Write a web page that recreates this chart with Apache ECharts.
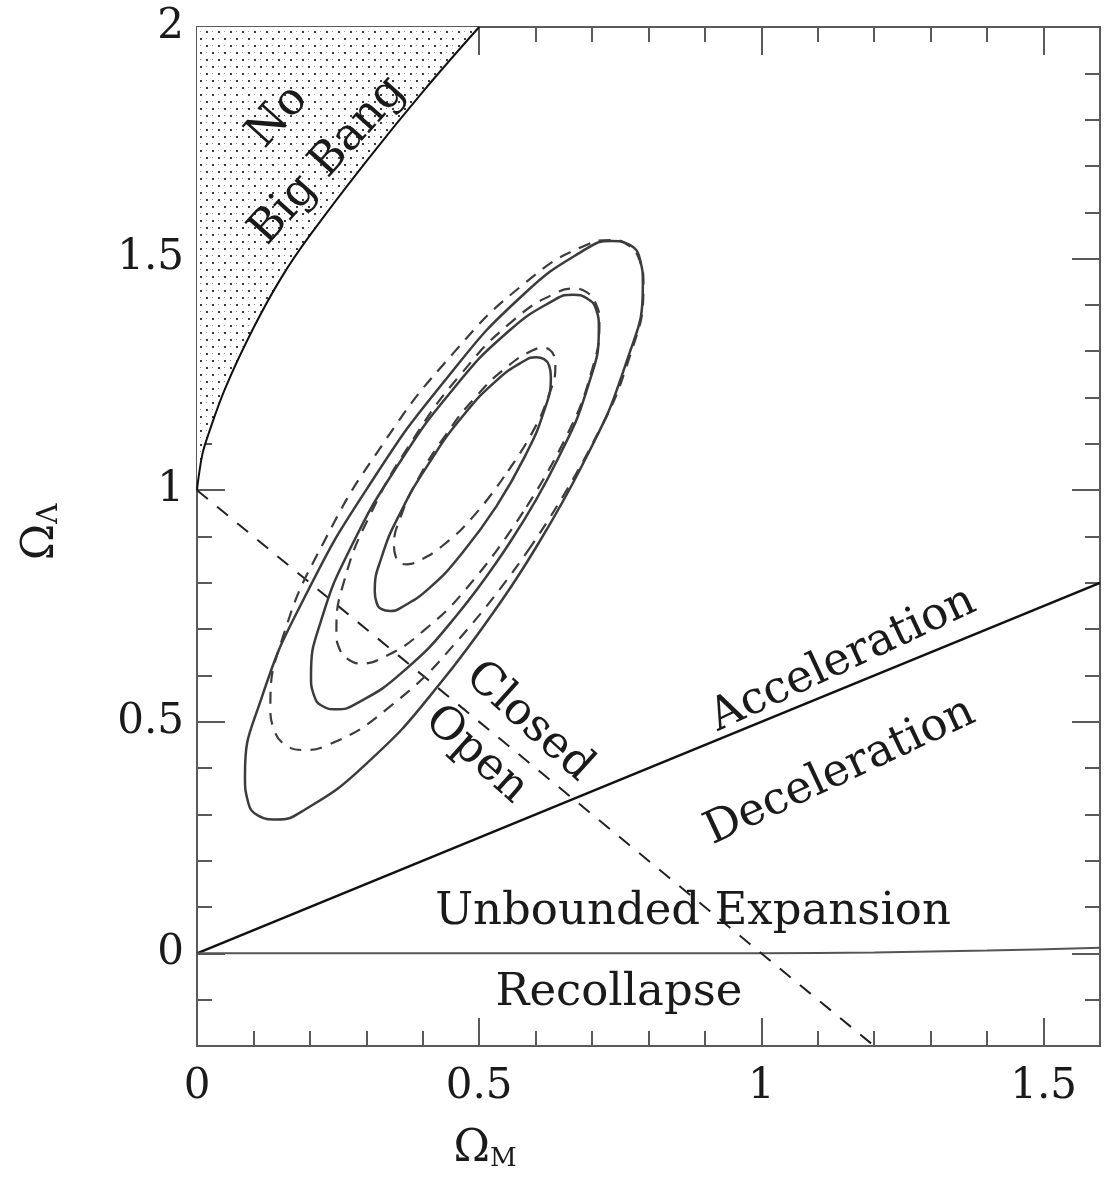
<!DOCTYPE html>
<html>
<head>
<meta charset="utf-8">
<script src="https://cdn.jsdelivr.net/npm/echarts@6/dist/echarts.min.js"></script>
<style>
html,body{margin:0;padding:0;background:#fff;}
#chart{width:1105px;height:1188px;}
</style>
</head>
<body>
<div id="chart"></div>
<script>
// ---------- data ----------
const xMajorTicks = [0, 0.5, 1, 1.5];
const yMajorTicks = [0, 0.5, 1, 1.5, 2];

// "No Big Bang" boundary
const noBigBangM = [0, 0.003, 0.01, 0.02, 0.05, 0.1, 0.15, 0.2, 0.3, 0.4, 0.5];
const noBigBangL = [1, 1.03, 1.08, 1.12, 1.22, 1.35, 1.46, 1.55, 1.71, 1.86, 2.0];

// acceleration / deceleration boundary
const accelM = [0, 1.6];
const accelL = [0, 0.8];

// closed / open (flat) boundary
const flatM = [0, 1.2];
const flatL = [1, -0.2];

// expansion / recollapse boundary
const recollapseM = [0, 1, 1.2, 1.4, 1.6];
const recollapseL = [0, 0, 0.002, 0.006, 0.012];

// solid contours
const solidOuterM = [0.567,0.431,0.297,0.184,0.141,0.109,0.090,0.085,0.114,0.192,0.308,0.444,0.578,0.691,0.734,0.766,0.785,0.790,0.761,0.683,0.567];
const solidOuterL = [0.811,0.583,0.406,0.305,0.289,0.297,0.329,0.383,0.550,0.772,1.016,1.244,1.422,1.522,1.538,1.530,1.498,1.444,1.277,1.055,0.811];
const solidMidM = [0.558,0.461,0.363,0.279,0.247,0.222,0.207,0.202,0.220,0.274,0.356,0.453,0.551,0.635,0.667,0.691,0.707,0.712,0.694,0.640,0.558];
const solidMidL = [0.894,0.731,0.606,0.537,0.527,0.534,0.558,0.598,0.719,0.880,1.054,1.217,1.342,1.412,1.422,1.414,1.391,1.350,1.229,1.069,0.894];
const solidInnerM = [0.531,0.471,0.412,0.361,0.342,0.327,0.318,0.315,0.327,0.361,0.412,0.471,0.531,0.581,0.601,0.615,0.624,0.627,0.615,0.581,0.531];
const solidInnerL = [0.966,0.866,0.789,0.746,0.739,0.743,0.758,0.781,0.855,0.953,1.060,1.160,1.237,1.280,1.287,1.283,1.269,1.245,1.171,1.073,0.966];

// dashed contours
const dashOuterM = [0.592,0.466,0.339,0.230,0.188,0.157,0.137,0.130,0.153,0.223,0.329,0.455,0.582,0.691,0.733,0.764,0.784,0.791,0.768,0.698,0.592];
const dashOuterL = [0.879,0.681,0.530,0.449,0.439,0.450,0.481,0.533,0.686,0.884,1.099,1.297,1.448,1.530,1.540,1.529,1.497,1.445,1.293,1.094,0.879];
const dashMidM = [0.578,0.490,0.400,0.322,0.292,0.269,0.253,0.247,0.261,0.308,0.382,0.470,0.560,0.638,0.668,0.691,0.706,0.713,0.699,0.652,0.578];
const dashMidL = [0.953,0.806,0.695,0.634,0.626,0.634,0.656,0.694,0.805,0.950,1.108,1.254,1.366,1.427,1.435,1.427,1.404,1.367,1.256,1.110,0.953];
const dashInnerM = [0.544,0.490,0.435,0.389,0.372,0.359,0.352,0.349,0.361,0.393,0.440,0.495,0.550,0.595,0.613,0.625,0.633,0.635,0.623,0.592,0.544];
const dashInnerL = [1.029,0.944,0.880,0.845,0.840,0.844,0.857,0.879,0.943,1.027,1.118,1.203,1.267,1.302,1.307,1.303,1.289,1.268,1.204,1.120,1.029];

// region labels
const regionLabels = ['No', 'Big Bang', 'Acceleration', 'Deceleration', 'Closed', 'Open', 'Unbounded Expansion', 'Recollapse'];

// ---------- helpers ----------
const pairs = (xs, ys) => xs.map((x, i) => [x, ys[i]]);
const FONT = '"DejaVu Serif", "Liberation Serif", serif';
const AXIS_COLOR = '#5a5a5a';
const TEXT_COLOR = '#1a1a1a';

function dotPattern() {
  const c = document.createElement('canvas');
  c.width = 12; c.height = 14;
  const g = c.getContext('2d');
  g.fillStyle = '#ffffff';
  g.fillRect(0, 0, 12, 14);
  g.fillStyle = '#3a3a3a';
  g.fillRect(2, 3, 2, 2);
  g.fillRect(8, 10, 2, 2);
  g.fillStyle = '#9a9a9a';
  g.fillRect(8, 3, 1, 1);
  g.fillRect(2, 10, 1, 1);
  return c;
}

const chart = echarts.init(document.getElementById('chart'), null, {renderer: 'canvas'});

const axisLineStyle = {color: AXIS_COLOR, width: 2};
function xAxisDef(position, major) {
  return {
    type: 'value', min: 0, max: 1.6, position: position,
    interval: major ? 0.5 : 0.1,
    axisLine: {show: true, onZero: false, lineStyle: axisLineStyle},
    axisTick: major
      ? {show: true, inside: true, length: 28, customValues: xMajorTicks, lineStyle: {color: AXIS_COLOR, width: 2}}
      : {show: true, inside: true, length: 15, lineStyle: {color: AXIS_COLOR, width: 2}},
    axisLabel: (major && position === 'bottom')
      ? {show: true, customValues: xMajorTicks, fontSize: 42, fontFamily: FONT, color: TEXT_COLOR, margin: 20}
      : {show: false},
    splitLine: {show: false}
  };
}
function yAxisDef(position, major) {
  return {
    type: 'value', min: -0.2, max: 2, position: position,
    interval: 0.1,
    axisLine: {show: true, onZero: false, lineStyle: axisLineStyle},
    axisTick: major
      ? {show: true, inside: true, length: 28, customValues: yMajorTicks, lineStyle: {color: AXIS_COLOR, width: 2}}
      : {show: true, inside: true, length: 15, lineStyle: {color: AXIS_COLOR, width: 2}},
    axisLabel: (major && position === 'left')
      ? {show: true, customValues: yMajorTicks, fontSize: 42, fontFamily: FONT, color: TEXT_COLOR, margin: 13}
      : {show: false},
    splitLine: {show: false}
  };
}

function lineSeries(data, opts) {
  return Object.assign({
    type: 'line', xAxisIndex: 0, yAxisIndex: 0, data: data,
    showSymbol: false, symbol: 'none', silent: true, animation: false,
    lineStyle: {color: '#222', width: 2}
  }, opts);
}

const contourSolid = {color: '#3c3c3c', width: 2.5, type: 'solid'};
const contourDash = {color: '#3c3c3c', width: 2.2, type: [12, 9]};

const option = {
  animation: false,
  backgroundColor: '#ffffff',
  grid: {left: 197, right: 5, top: 27, bottom: 142, containLabel: false},
  xAxis: [xAxisDef('bottom', true), xAxisDef('bottom', false), xAxisDef('top', true), xAxisDef('top', false)],
  yAxis: [yAxisDef('left', true), yAxisDef('left', false), yAxisDef('right', true), yAxisDef('right', false)],
  series: [
    lineSeries(pairs(noBigBangM, noBigBangL), {
      smooth: 0.4, z: 1,
      lineStyle: {color: '#111', width: 2},
      areaStyle: {origin: 'end', opacity: 1, color: {image: dotPattern(), repeat: 'repeat'}}
    }),
    lineSeries(pairs(accelM, accelL), {lineStyle: {color: '#111', width: 2.5}}),
    lineSeries(pairs(recollapseM, recollapseL), {smooth: 0.3, lineStyle: {color: '#555', width: 2}}),
    lineSeries(pairs(flatM, flatL), {lineStyle: {color: '#222', width: 2, type: [14, 12]}}),
    lineSeries(pairs(solidOuterM, solidOuterL), {smooth: 0.5, lineStyle: contourSolid}),
    lineSeries(pairs(solidMidM, solidMidL), {smooth: 0.5, lineStyle: contourSolid}),
    lineSeries(pairs(solidInnerM, solidInnerL), {smooth: 0.5, lineStyle: contourSolid}),
    lineSeries(pairs(dashOuterM, dashOuterL), {smooth: 0.5, lineStyle: contourDash}),
    lineSeries(pairs(dashMidM, dashMidL), {smooth: 0.5, lineStyle: contourDash}),
    lineSeries(pairs(dashInnerM, dashInnerL), {smooth: 0.5, lineStyle: contourDash})
  ]
};
chart.setOption(option);

// ---------- text labels ----------
const deg = Math.PI / 180;
function label(text, x, y, rotDeg, size) {
  return {
    type: 'text', x: x, y: y, rotation: rotDeg * deg, z: 100, silent: true,
    style: {text: text, fontSize: size || 45, fontFamily: FONT, fill: TEXT_COLOR, align: 'center', verticalAlign: 'middle'}
  };
}
const graphics = [
  label(regionLabels[0], 278, 117, 48),
  label(regionLabels[1], 328, 161, 48),
  label(regionLabels[2], 843, 660, 25),
  label(regionLabels[3], 840, 772, 25),
  label(regionLabels[4], 529, 722, -42),
  label(regionLabels[5], 476, 755, -42),
  label(regionLabels[6], 693, 912, 0),
  label(regionLabels[7], 619, 993, 0),
  {
    type: 'text', x: 485, y: 1150, z: 100, silent: true,
    style: {
      text: '{o|Ω}{s|M}', align: 'center', verticalAlign: 'middle', fill: TEXT_COLOR,
      rich: {
        o: {fontSize: 44, lineHeight: 44, fontFamily: FONT, fill: TEXT_COLOR},
        s: {fontSize: 26, lineHeight: 18, fontFamily: FONT, fill: TEXT_COLOR, verticalAlign: 'bottom'}
      }
    }
  },
  {
    type: 'text', x: 42, y: 532, rotation: 90 * deg, z: 100, silent: true,
    style: {
      text: '{o|Ω}{s|Λ}', align: 'center', verticalAlign: 'middle', fill: TEXT_COLOR,
      rich: {
        o: {fontSize: 44, lineHeight: 44, fontFamily: FONT, fill: TEXT_COLOR},
        s: {fontSize: 28, lineHeight: 14, fontFamily: FONT, fill: TEXT_COLOR, verticalAlign: 'bottom'}
      }
    }
  }
];
chart.setOption({graphic: graphics});
</script>
</body>
</html>
